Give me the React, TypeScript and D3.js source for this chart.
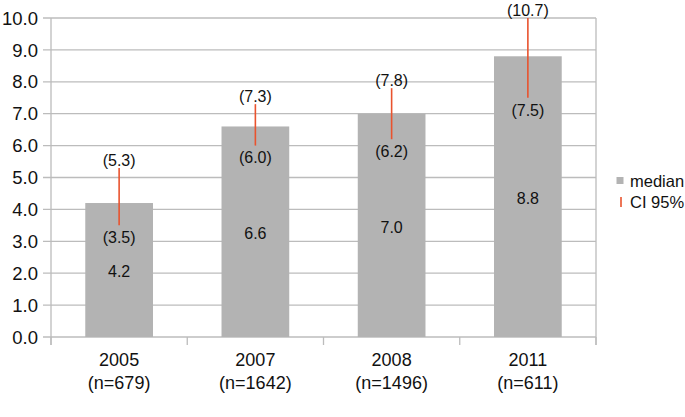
import React from "react";
import * as d3 from "d3";

const years = ["2005", "2007", "2008", "2011"];
const sampleSizes = ["(n=679)", "(n=1642)", "(n=1496)", "(n=611)"];
const medians = [4.2, 6.6, 7.0, 8.8];
const ciLow = [3.5, 6.0, 6.2, 7.5];
const ciHigh = [5.3, 7.3, 7.8, 10.7];
const yTicks = [0, 1, 2, 3, 4, 5, 6, 7, 8, 9, 10];

const W = 685;
const H = 417;
const left = 51;
const right = 596;
const top = 18;
const bottom = 337;
const FONT = "'Liberation Sans', Arial, Helvetica, sans-serif";
const GRID = "#bcbcbc";
const BAR = "#b3b3b3";
const CI = "#e9532e";

export default function App() {
  const x = d3.scaleBand().domain(years).range([left, right]).paddingInner(0).paddingOuter(0);
  const y = d3.scaleLinear().domain([0, 10]).range([bottom, top]);
  const bw = x.bandwidth();
  const barW = bw * 0.497;
  const boundaries = [...years.map((yr) => x(yr) as number), right];

  return (
    <svg
      width={W}
      height={H}
      style={{ position: "absolute", left: 0, top: 0, background: "#fff" }}
      fontFamily={FONT}
    >
      {/* gridlines */}
      {yTicks.map((t) => (
        <line key={"g" + t} x1={left - 8} x2={right} y1={y(t)} y2={y(t)} stroke={GRID} strokeWidth={1.3} />
      ))}
      {/* y axis line and right border */}
      <line x1={left} x2={left} y1={top} y2={bottom + 8} stroke={GRID} strokeWidth={1.3} />
      <line x1={right} x2={right} y1={top} y2={bottom + 8} stroke={GRID} strokeWidth={1.3} />
      {/* category ticks */}
      {boundaries.map((b, i) => (
        <line key={"ct" + i} x1={b} x2={b} y1={bottom} y2={bottom + 8} stroke={GRID} strokeWidth={1.3} />
      ))}
      {/* y tick labels */}
      {yTicks.map((t) => (
        <text key={"yl" + t} x={38} y={y(t)} dy="0.36em" textAnchor="end" fontSize={18.5} fill="#111">
          {t.toFixed(1)}
        </text>
      ))}
      {/* bars */}
      {years.map((yr, i) => {
        const cx = (x(yr) as number) + bw / 2;
        return (
          <g key={"b" + yr}>
            <rect x={cx - barW / 2} y={y(medians[i])} width={barW} height={y(0) - y(medians[i])} fill={BAR} />
            <text
              x={cx}
              y={(y(medians[i]) + y(0)) / 2 + 1.5}
              dy="0.36em"
              textAnchor="middle"
              fontSize={16}
              fill="#111"
            >
              {medians[i].toFixed(1)}
            </text>
          </g>
        );
      })}
      {/* CI lines */}
      {years.map((yr, i) => {
        const cx = (x(yr) as number) + bw / 2;
        const yHi = y(Math.min(ciHigh[i], 10));
        const yLo = y(ciLow[i]);
        return (
          <g key={"ci" + yr}>
            <line x1={cx} x2={cx} y1={yHi} y2={yLo} stroke={CI} strokeWidth={1.6} />
            <text x={cx} y={yHi - 8} dy="0.36em" textAnchor="middle" fontSize={16} fill="#111">
              ({ciHigh[i].toFixed(1)})
            </text>
            <text x={cx} y={yLo + 12} dy="0.36em" textAnchor="middle" fontSize={16} fill="#111">
              ({ciLow[i].toFixed(1)})
            </text>
          </g>
        );
      })}
      {/* category labels */}
      {years.map((yr, i) => {
        const cx = (x(yr) as number) + bw / 2;
        return (
          <g key={"cl" + yr}>
            <text x={cx} y={360} dy="0.36em" textAnchor="middle" fontSize={18} fill="#111">
              {yr}
            </text>
            <text x={cx} y={383} dy="0.36em" textAnchor="middle" fontSize={18} fill="#111">
              {sampleSizes[i]}
            </text>
          </g>
        );
      })}
      {/* legend */}
      <rect x={616.5} y={177} width={7} height={7} fill={BAR} />
      <text x={630} y={181} dy="0.36em" fontSize={16.5} fill="#111">
        median
      </text>
      <line x1={621} x2={621} y1={197} y2={207} stroke={CI} strokeWidth={1.6} />
      <text x={630} y={202} dy="0.36em" fontSize={16.5} fill="#111">
        CI 95%
      </text>
    </svg>
  );
}
